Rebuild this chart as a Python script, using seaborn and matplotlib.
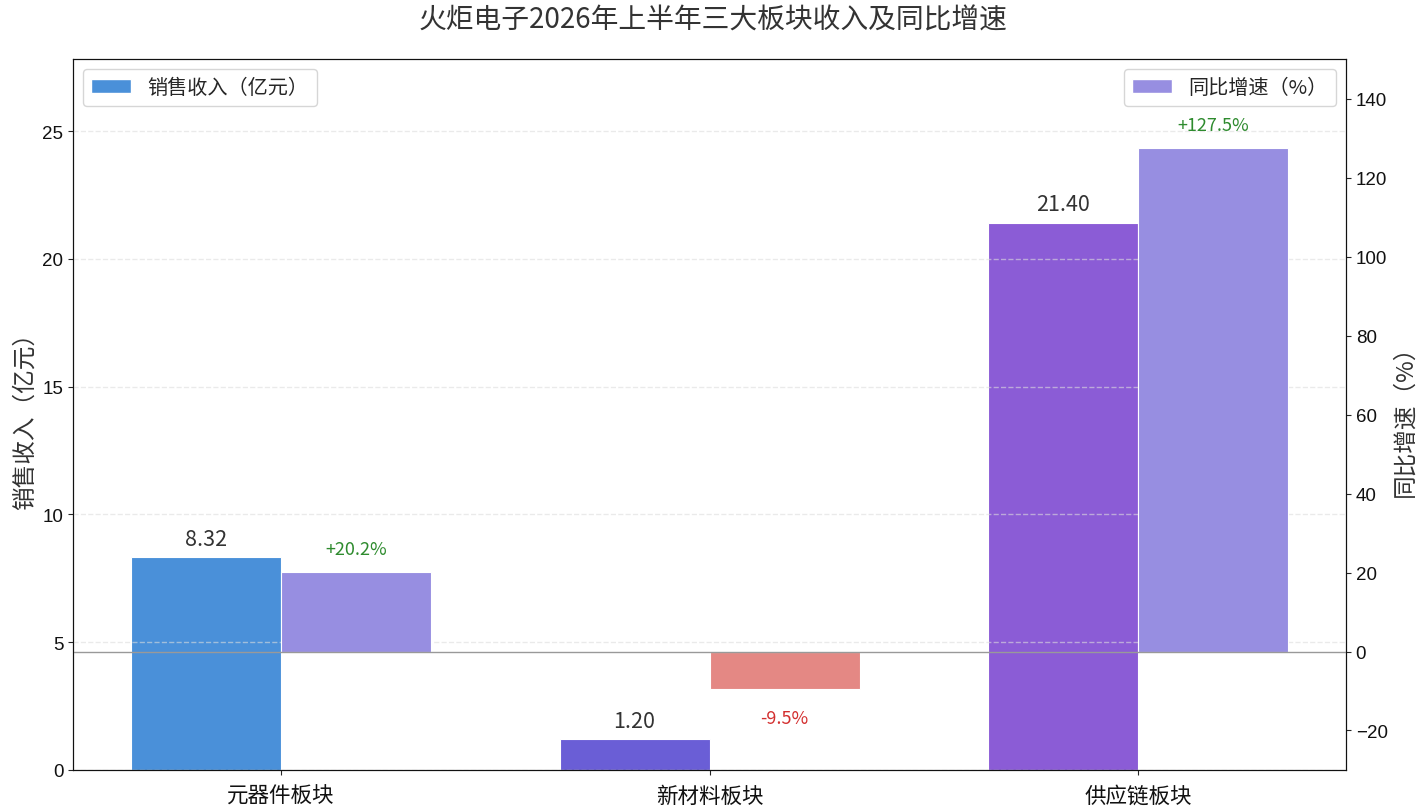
import numpy as np
import pandas as pd
import matplotlib
matplotlib.use("Agg")
import matplotlib.pyplot as plt
from matplotlib.patches import Patch
from matplotlib import font_manager
import seaborn as sns

# ---- data ----
categories = ["元器件板块", "新材料板块", "供应链板块"]
revenue = [8.32, 1.20, 21.40]          # 亿元
growth = [20.2, -9.5, 127.5]           # %
title = "火炬电子2026年上半年三大板块收入及同比增速"
rev_label = "销售收入（亿元）"
growth_label = "同比增速（%）"

# ---- style ----
rev_colors = ["#4A90D9", "#6A5ED6", "#8B5CD6"]
pos_color = "#978EE1"
neg_color = "#E48884"

sns.set_style("ticks")
plt.rcParams["font.family"] = ["Noto Sans CJK SC", "DejaVu Sans"]
plt.rcParams["axes.unicode_minus"] = True

installed = {f.name for f in font_manager.fontManager.ttflist}
num_family = (["Noto Sans Mono CJK SC", "DejaVu Sans"]
              if "Noto Sans Mono CJK SC" in installed
              else ["Noto Sans CJK SC", "DejaVu Sans"])
tick_family = "Liberation Sans" if "Liberation Sans" in installed else "DejaVu Sans"

fig, ax = plt.subplots(figsize=(14.27, 8.12), dpi=100)
fig.subplots_adjust(left=0.0512, right=0.9432, bottom=0.0505, top=0.926)
ax2 = ax.twinx()

w = 0.35
idx = np.arange(len(categories))
df_rev = pd.DataFrame({"pos": idx - w / 2, "val": revenue, "cat": categories})
df_g = pd.DataFrame({"pos": idx + w / 2, "val": growth,
                     "sign": ["pos" if g >= 0 else "neg" for g in growth]})

sns.barplot(data=df_rev, x="pos", y="val", hue="cat", hue_order=categories,
            palette=rev_colors, native_scale=True, width=w, dodge=False,
            errorbar=None, legend=False, saturation=1, ax=ax,
            edgecolor="white", linewidth=0.8)
sns.barplot(data=df_g, x="pos", y="val", hue="sign", hue_order=["pos", "neg"],
            palette={"pos": pos_color, "neg": neg_color}, native_scale=True,
            width=w, dodge=False, errorbar=None, legend=False, saturation=1,
            ax=ax2, edgecolor="white", linewidth=0.8)

ax.set_xlim(-0.485, 2.485)
ax.set_ylim(0, max(revenue) * 1.3)
ax2.set_ylim(-30, 150)
ax.set_xticks(idx)
ax.set_xticklabels(categories, fontsize=15.5, color="#111111")
ax.tick_params(axis="x", pad=7)
ax.set_xlabel("")
ax.set_ylabel(rev_label, fontsize=17, color="#333333")
ax2.set_ylabel(growth_label, fontsize=17, color="#333333")
ax.set_yticks([0, 5, 10, 15, 20, 25])
ax2.set_yticks([-20, 0, 20, 40, 60, 80, 100, 120, 140])
for a in (ax, ax2):
    a.tick_params(axis="y", labelsize=13.5, labelcolor="#111111")
    for lab in a.get_yticklabels():
        lab.set_fontfamily(tick_family)
    for sp in a.spines.values():
        sp.set_color("#111111")

ax.yaxis.grid(True, linestyle="--", color="#dddddd", alpha=0.6, linewidth=1)
ax.set_axisbelow(False)
ax2.axhline(0, color="#999999", linewidth=1)

for i, v in enumerate(revenue):
    ax.text(i - w / 2, v + 0.3, f"{v:.2f}", ha="center", va="bottom",
            fontsize=15.5, color="#333333", family=num_family)
for i, g in enumerate(growth):
    if g >= 0:
        ax2.text(i + w / 2, g + 3.5, f"+{g:.1f}%", ha="center", va="bottom",
                 fontsize=13, color="#2E8B2E", family=num_family)
    else:
        ax2.text(i + w / 2, g - 5, f"-{abs(g):.1f}%", ha="center", va="top",
                 fontsize=13, color="#D32F2F", family=num_family)

ax.legend(handles=[Patch(facecolor=rev_colors[0], label=rev_label)],
          loc="upper left", fontsize=14.5)
ax2.legend(handles=[Patch(facecolor=pos_color, label=growth_label)],
           loc="upper right", fontsize=14.5)

fig.suptitle(title, fontsize=20, color="#333333", y=0.975, va="center")

fig.savefig("out.png", dpi=100)
